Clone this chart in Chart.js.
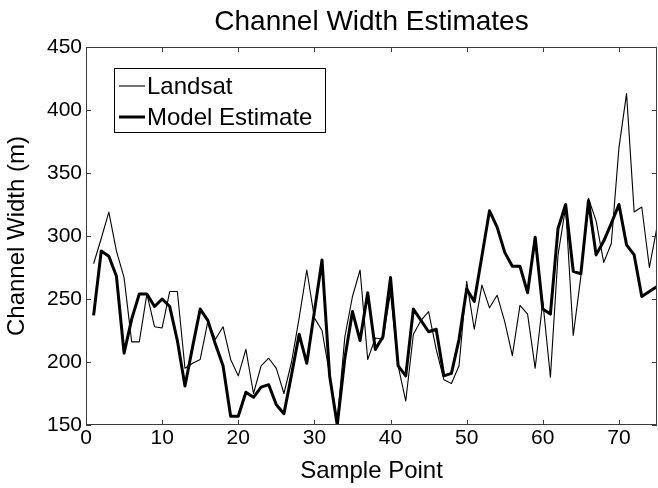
<!DOCTYPE html>
<html><head><meta charset="utf-8">
<style>html,body{margin:0;padding:0;background:#fff}#wrap{width:658px;height:488px;position:relative}</style>
<script src="https://cdn.jsdelivr.net/npm/chart.js@4.4.1/dist/chart.umd.min.js"></script>
</head><body><div id="wrap"><canvas id="c" width="658" height="488"></canvas></div>
<script>
const samplePoints = [1,2,3,4,5,6,7,8,9,10,11,12,13,14,15,16,17,18,19,20,21,22,23,24,25,26,27,28,29,30,31,32,33,34,35,36,37,38,39,40,41,42,43,44,45,46,47,48,49,50,51,52,53,54,55,56,57,58,59,60,61,62,63,64,65,66,67,68,69,70,71,72,73,74,75];
const landsat = [278,298,319,288,267,216,216,254,228,227,256,256,195,199,202,232,218,228,202,189,210,175,197,203,195,175,200,235,273,235,225,190,153,220,252,273,202,219,218,255,197,169,222,233,240,210,186,183,197,264,226,261,243,253,232,205,245,238,195,248,188,285,323,221,268,330,312,279,294,370,413,319,323,275,307];
const modelEstimate = [237,288,284,268,207,234,254,254,244,250,244,217,181,212,242,233,214,197,157,157,176,172,180,182,166,159,190,222,199,240,281,189,150,203,240,217,255,210,220,267,197,189,242,233,224,226,189,191,218,258,248,284,320,307,287,276,276,255,299,242,238,306,325,272,270,328,285,296,310,325,293,285,252,256,260];
const xTickValues = [0,10,20,30,40,50,60,70];
const yTickValues = [150,200,250,300,350,400,450];
const seriesLabels = ['Landsat','Model Estimate'];
const chartTitle = 'Channel Width Estimates';
const xAxisTitle = 'Sample Point';
const yAxisTitle = 'Channel Width (m)';

const FONT = "'Liberation Sans', Arial, Helvetica, sans-serif";
const AXIS_COLOR = '#3c3c3c';

const framePlugin = {
  id: 'frame',
  afterDraw(chart) {
    const {ctx, chartArea: a, scales} = chart;
    ctx.save();
    ctx.strokeStyle = AXIS_COLOR;
    ctx.lineWidth = 1;
    ctx.strokeRect(a.left + 0.5, a.top + 0.5, a.right - a.left - 1, a.bottom - a.top - 1);
    const L = 5;
    ctx.beginPath();
    scales.x.ticks.forEach(t => {
      const px = Math.round(scales.x.getPixelForValue(t.value)) + 0.5;
      ctx.moveTo(px, a.bottom); ctx.lineTo(px, a.bottom - L);
      ctx.moveTo(px, a.top); ctx.lineTo(px, a.top + L);
    });
    scales.y.ticks.forEach(t => {
      const py = Math.round(scales.y.getPixelForValue(t.value)) + 0.5;
      ctx.moveTo(a.left, py); ctx.lineTo(a.left + L, py);
      ctx.moveTo(a.right, py); ctx.lineTo(a.right - L, py);
    });
    ctx.stroke();
    // title
    ctx.fillStyle = '#000';
    ctx.font = '28px ' + FONT;
    ctx.textAlign = 'center';
    ctx.textBaseline = 'alphabetic';
    ctx.fillText(chartTitle, (a.left + a.right) / 2, 30);
    // legend
    const bx = 114, by = 68, bw = 211, bh = 64;
    ctx.fillStyle = '#fff';
    ctx.fillRect(bx, by, bw, bh);
    ctx.strokeStyle = '#000';
    ctx.lineWidth = 1;
    ctx.strokeRect(bx + 0.5, by + 0.5, bw, bh);
    ctx.font = '24px ' + FONT;
    ctx.textAlign = 'left';
    ctx.textBaseline = 'middle';
    chart.data.datasets.forEach((ds, i) => {
      const cy = by + 18 + i * 31;
      ctx.strokeStyle = ds.borderColor;
      ctx.lineWidth = ds.borderWidth;
      ctx.beginPath();
      ctx.moveTo(bx + 5, cy); ctx.lineTo(bx + 31, cy);
      ctx.stroke();
      ctx.fillStyle = '#000';
      ctx.fillText(ds.label, bx + 33, cy + 1);
    });
    ctx.restore();
  }
};

new Chart(document.getElementById('c'), {
  type: 'line',
  data: {
    datasets: [
      { label: seriesLabels[0], data: samplePoints.map((x, i) => ({x, y: landsat[i]})),
        borderColor: '#000', borderWidth: 1.1, pointRadius: 0, tension: 0, order: 2, borderJoinStyle: 'round' },
      { label: seriesLabels[1], data: samplePoints.map((x, i) => ({x, y: modelEstimate[i]})),
        borderColor: '#000', borderWidth: 3, pointRadius: 0, tension: 0, order: 1, borderJoinStyle: 'round' }
    ]
  },
  options: {
    responsive: false,
    animation: false,
    layout: { padding: { top: 47, right: 1, left: 0, bottom: 0 } },
    plugins: { legend: { display: false }, title: { display: false }, tooltip: { enabled: false } },
    scales: {
      x: {
        type: 'linear', min: 0, max: 75,
        afterBuildTicks: s => { s.ticks = xTickValues.map(v => ({value: v})); },
        afterFit: s => { s.height = 63; },
        grid: { display: false, drawTicks: false },
        border: { display: false },
        ticks: { color: '#000', font: { family: FONT, size: 21 }, padding: 1, maxRotation: 0 },
        title: { display: true, text: xAxisTitle, color: '#000', font: { family: FONT, size: 24 }, padding: { top: 0, bottom: 2 } }
      },
      y: {
        type: 'linear', min: 150, max: 450,
        afterBuildTicks: s => { s.ticks = yTickValues.map(v => ({value: v})); },
        afterFit: s => { s.width = 86; },
        grid: { display: false, drawTicks: false },
        border: { display: false },
        ticks: { color: '#000', font: { family: FONT, size: 21 }, padding: 4 },
        title: { display: true, text: yAxisTitle, color: '#000', font: { family: FONT, size: 24 }, padding: { top: 3, bottom: 0 } }
      }
    }
  },
  plugins: [framePlugin]
});
</script></body></html>
